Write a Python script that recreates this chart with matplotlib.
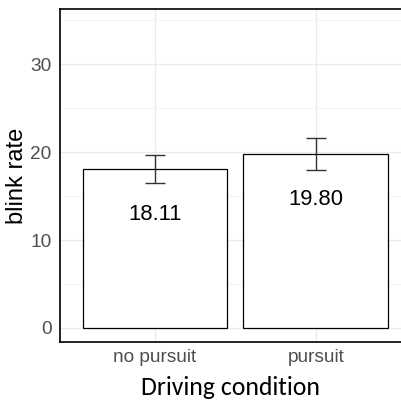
import matplotlib.pyplot as plt

# data
conditions = ["no pursuit", "pursuit"]
blink_rate = [18.11, 19.80]
blink_se = [1.6, 1.85]
bar_labels = ["18.11", "19.80"]

fig = plt.figure(figsize=(4.01, 4.03), dpi=100)
ax = fig.add_axes([60 / 401, 61 / 403, 341 / 401, 333 / 403])

x = [1, 2]
ax.bar(x, blink_rate, width=0.9, color="white", edgecolor="black", linewidth=0.9, zorder=3)
ax.errorbar(x, blink_rate, yerr=blink_se, fmt="none", ecolor="#333333",
            elinewidth=1.0, capsize=7.5, capthick=1.0, zorder=4)

# value labels inside bars
for xi, v, lab in zip(x, blink_rate, bar_labels):
    ax.text(xi, v - 5.2, lab, ha="center", va="center", fontsize=15.8,
            family="Liberation Sans", color="black", zorder=5)

ax.set_xlim(0.41, 2.53)
ax.set_ylim(-1.6, 36.3)
ax.set_xticks(x)
ax.set_xticklabels(conditions)
ax.set_yticks([0, 10, 20, 30])
ax.set_yticks([5, 15, 25, 35], minor=True)

ax.grid(True, which="major", color="#ebebeb", linewidth=1.0, zorder=0)
ax.grid(True, which="minor", axis="y", color="#f2f2f2", linewidth=0.6, zorder=0)
ax.set_axisbelow(True)

ax.tick_params(axis="both", which="both", length=0, labelsize=13.7,
               labelcolor="#4d4d4d")
ax.tick_params(axis="y", pad=6)
ax.tick_params(axis="x", pad=5)
for lab in ax.get_xticklabels() + ax.get_yticklabels():
    lab.set_family("Liberation Sans")

for side in ["left", "bottom", "top"]:
    ax.spines[side].set_color("black")
    ax.spines[side].set_linewidth(1.2)
ax.spines["right"].set_visible(False)

ax.set_ylabel("blink rate", fontsize=17, family="Liberation Sans", labelpad=2)
ax.set_xlabel("Driving condition", fontsize=18.5, family=["Carlito", "Lato"], labelpad=7)

fig.savefig("out.png", dpi=100)
